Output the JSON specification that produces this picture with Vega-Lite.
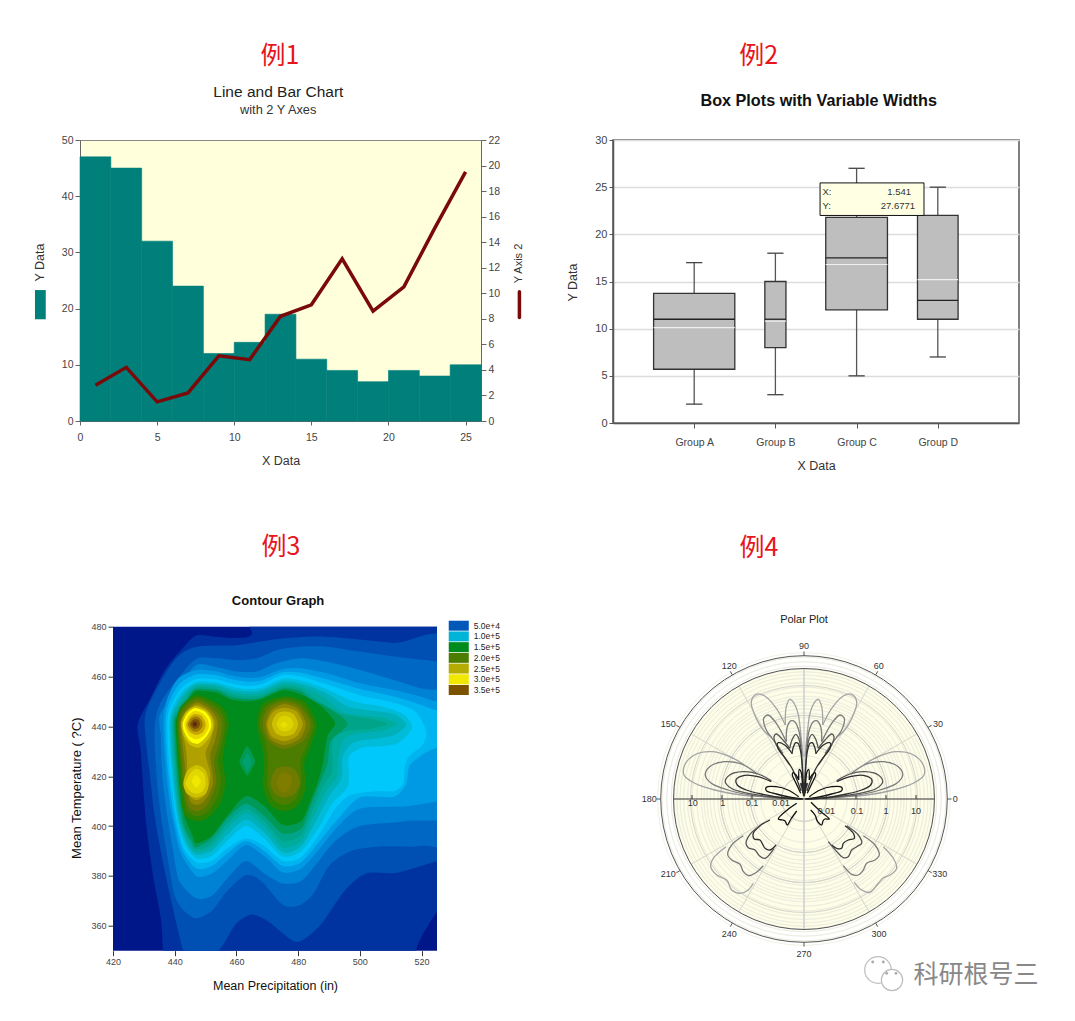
{"$schema":"https://vega.github.io/schema/vega-lite/v6.json","background":"white","padding":{"left":32,"top":43,"right":0,"bottom":0},"config":{"font":"Liberation Sans","axis":{"grid":false,"labelFlush":false,"labelOverlap":false,"labelColor":"#444444","titleColor":"#333333","domainColor":"#666666","tickColor":"#666666","titleFontWeight":"normal","labelFontSize":10.5,"titleFontSize":12.5}},
"datasets":{
"contour":[
{"p":1,"x":468,"y":490},{"p":1,"x":465,"y":477},{"p":1,"x":460,"y":475.5},{"p":1,"x":453,"y":476},{"p":1,"x":447,"y":476.5},{"p":1,"x":443,"y":472},{"p":1,"x":437,"y":463},{"p":1,"x":432,"y":451},{"p":1,"x":428,"y":441},{"p":1,"x":429,"y":430},{"p":1,"x":430,"y":412},{"p":1,"x":431,"y":398},{"p":1,"x":433,"y":380},{"p":1,"x":435.5,"y":363},{"p":1,"x":436.2,"y":350},{"p":1,"x":436.5,"y":340},{"p":1,"x":437,"y":325},{"p":1,"x":480,"y":320},{"p":1,"x":517,"y":325},{"p":1,"x":517.6,"y":340},{"p":1,"x":518.2,"y":350},{"p":1,"x":520,"y":355.6},{"p":1,"x":525,"y":365.6},{"p":1,"x":530,"y":372},{"p":1,"x":540,"y":385},{"p":1,"x":545,"y":490},
{"p":2,"x":530,"y":472},{"p":2,"x":511,"y":473.5},{"p":2,"x":489,"y":476},{"p":2,"x":473,"y":475},{"p":2,"x":460,"y":472.6},{"p":2,"x":447,"y":472},{"p":2,"x":440.6,"y":467.5},{"p":2,"x":435,"y":457},{"p":2,"x":430.5,"y":445},{"p":2,"x":430.7,"y":434},{"p":2,"x":432,"y":420},{"p":2,"x":433.5,"y":404},{"p":2,"x":435.8,"y":388},{"p":2,"x":438.5,"y":372},{"p":2,"x":443,"y":349},{"p":2,"x":447,"y":340},{"p":2,"x":451,"y":345},{"p":2,"x":456,"y":353},{"p":2,"x":460,"y":361},{"p":2,"x":465,"y":364.5},{"p":2,"x":470,"y":362},{"p":2,"x":475,"y":357},{"p":2,"x":480,"y":353.5},{"p":2,"x":487,"y":360},{"p":2,"x":495,"y":374},{"p":2,"x":502,"y":381},{"p":2,"x":512,"y":381.3},{"p":2,"x":525,"y":386},{"p":2,"x":535,"y":390},
{"p":3,"x":535,"y":464},{"p":3,"x":525,"y":466},{"p":3,"x":511,"y":468},{"p":3,"x":500,"y":470},{"p":3,"x":489,"y":472},{"p":3,"x":480.6,"y":472},{"p":3,"x":473,"y":470.6},{"p":3,"x":466.6,"y":467.3},{"p":3,"x":460,"y":466.6},{"p":3,"x":453.6,"y":467.3},{"p":3,"x":447,"y":467},{"p":3,"x":440.6,"y":458.6},{"p":3,"x":435.2,"y":449},{"p":3,"x":433.6,"y":441},{"p":3,"x":433.6,"y":430},{"p":3,"x":434.5,"y":415},{"p":3,"x":436,"y":400},{"p":3,"x":438,"y":385},{"p":3,"x":440,"y":372},{"p":3,"x":443,"y":366},{"p":3,"x":447,"y":363},{"p":3,"x":452,"y":366},{"p":3,"x":457,"y":374},{"p":3,"x":463,"y":380.4},{"p":3,"x":468,"y":378},{"p":3,"x":475,"y":368.5},{"p":3,"x":480,"y":368},{"p":3,"x":485,"y":373},{"p":3,"x":490,"y":384},{"p":3,"x":497,"y":390},{"p":3,"x":507,"y":391.8},{"p":3,"x":520,"y":392},{"p":3,"x":535,"y":397},
{"p":4,"x":535,"y":454},{"p":4,"x":525,"y":454.6},{"p":4,"x":519.5,"y":455.3},{"p":4,"x":511,"y":458.6},{"p":4,"x":500,"y":462.6},{"p":4,"x":489,"y":466},{"p":4,"x":480.6,"y":467.3},{"p":4,"x":473,"y":465.3},{"p":4,"x":466.6,"y":462},{"p":4,"x":460,"y":462},{"p":4,"x":453.6,"y":463.7},{"p":4,"x":447,"y":464.6},{"p":4,"x":440.6,"y":454.6},{"p":4,"x":435.2,"y":444.6},{"p":4,"x":435.5,"y":436},{"p":4,"x":436,"y":420},{"p":4,"x":437.5,"y":405},{"p":4,"x":439.5,"y":390},{"p":4,"x":441.5,"y":378},{"p":4,"x":447,"y":371},{"p":4,"x":452,"y":372},{"p":4,"x":457,"y":379},{"p":4,"x":463,"y":386},{"p":4,"x":469,"y":381},{"p":4,"x":475,"y":377},{"p":4,"x":481,"y":378},{"p":4,"x":486,"y":385},{"p":4,"x":492,"y":394},{"p":4,"x":500,"y":400},{"p":4,"x":515,"y":402},{"p":4,"x":535,"y":407},
{"p":5,"x":535,"y":450},{"p":5,"x":525,"y":450},{"p":5,"x":519.5,"y":452},{"p":5,"x":511,"y":454.6},{"p":5,"x":500,"y":457.3},{"p":5,"x":489.2,"y":461.3},{"p":5,"x":480.6,"y":463.3},{"p":5,"x":475,"y":463},{"p":5,"x":468,"y":459.8},{"p":5,"x":463,"y":459.5},{"p":5,"x":458,"y":460.5},{"p":5,"x":453.6,"y":462},{"p":5,"x":447,"y":462.6},{"p":5,"x":441,"y":459},{"p":5,"x":437.3,"y":450},{"p":5,"x":436.3,"y":441},{"p":5,"x":437,"y":425},{"p":5,"x":438.3,"y":410},{"p":5,"x":439.8,"y":400},{"p":5,"x":442,"y":389},{"p":5,"x":447,"y":380},{"p":5,"x":452,"y":381},{"p":5,"x":457,"y":386},{"p":5,"x":463,"y":392.4},{"p":5,"x":469,"y":388},{"p":5,"x":475,"y":381.5},{"p":5,"x":481,"y":383},{"p":5,"x":487,"y":391},{"p":5,"x":493,"y":400},{"p":5,"x":500,"y":407},{"p":5,"x":515,"y":408},{"p":5,"x":525,"y":410},{"p":5,"x":535,"y":414},
{"p":6,"x":535,"y":447},{"p":6,"x":525,"y":446.5},{"p":6,"x":519,"y":449},{"p":6,"x":511,"y":452},{"p":6,"x":500,"y":455},{"p":6,"x":489,"y":459},{"p":6,"x":480.6,"y":461.5},{"p":6,"x":475,"y":461.7},{"p":6,"x":468,"y":458.3},{"p":6,"x":463,"y":458},{"p":6,"x":458,"y":459},{"p":6,"x":453.6,"y":460.5},{"p":6,"x":447,"y":460.8},{"p":6,"x":441.5,"y":457},{"p":6,"x":438,"y":449},{"p":6,"x":437,"y":441},{"p":6,"x":437.6,"y":425},{"p":6,"x":439,"y":410},{"p":6,"x":440.4,"y":400},{"p":6,"x":442.6,"y":390},{"p":6,"x":447,"y":383},{"p":6,"x":452,"y":384},{"p":6,"x":457,"y":389},{"p":6,"x":463,"y":394},{"p":6,"x":469,"y":390},{"p":6,"x":475,"y":384},{"p":6,"x":481,"y":385.5},{"p":6,"x":487,"y":394},{"p":6,"x":493,"y":403},{"p":6,"x":500,"y":411.5},{"p":6,"x":511,"y":411.8},{"p":6,"x":515,"y":417},{"p":6,"x":516,"y":424},{"p":6,"x":519.5,"y":428},{"p":6,"x":523,"y":430.5},{"p":6,"x":527,"y":432},{"p":6,"x":535,"y":433},
{"p":7,"x":521,"y":440},{"p":7,"x":518,"y":446},{"p":7,"x":511,"y":449.5},{"p":7,"x":500,"y":452.5},{"p":7,"x":489,"y":457},{"p":7,"x":480.6,"y":460},{"p":7,"x":475,"y":460.6},{"p":7,"x":468,"y":456.8},{"p":7,"x":463,"y":456.3},{"p":7,"x":458,"y":457.3},{"p":7,"x":453.6,"y":458.8},{"p":7,"x":447,"y":459},{"p":7,"x":442,"y":455},{"p":7,"x":438.7,"y":448},{"p":7,"x":437.6,"y":441},{"p":7,"x":438.2,"y":425},{"p":7,"x":439.6,"y":410},{"p":7,"x":441,"y":400},{"p":7,"x":443,"y":391},{"p":7,"x":447,"y":385.5},{"p":7,"x":452,"y":386},{"p":7,"x":457,"y":391},{"p":7,"x":463,"y":395},{"p":7,"x":469,"y":392},{"p":7,"x":475,"y":386},{"p":7,"x":481,"y":387.5},{"p":7,"x":487,"y":397},{"p":7,"x":492,"y":407},{"p":7,"x":497,"y":412.5},{"p":7,"x":505,"y":414},{"p":7,"x":511,"y":414},{"p":7,"x":514,"y":417},{"p":7,"x":514.6,"y":424},{"p":7,"x":516,"y":428},{"p":7,"x":520,"y":432},{"p":7,"x":521.5,"y":436},
{"p":8,"x":517,"y":440},{"p":8,"x":514,"y":445},{"p":8,"x":507,"y":448},{"p":8,"x":498,"y":450},{"p":8,"x":489,"y":455},{"p":8,"x":480.6,"y":458.5},{"p":8,"x":475,"y":459},{"p":8,"x":468,"y":455.5},{"p":8,"x":463,"y":455},{"p":8,"x":458,"y":456},{"p":8,"x":453.6,"y":457.6},{"p":8,"x":447,"y":457.8},{"p":8,"x":442.5,"y":454},{"p":8,"x":439.3,"y":447.5},{"p":8,"x":438.2,"y":441},{"p":8,"x":438.8,"y":425},{"p":8,"x":440,"y":410},{"p":8,"x":441.4,"y":400},{"p":8,"x":443.5,"y":392},{"p":8,"x":447,"y":387},{"p":8,"x":452,"y":388},{"p":8,"x":457,"y":394},{"p":8,"x":463,"y":400},{"p":8,"x":469,"y":395},{"p":8,"x":475,"y":387.8},{"p":8,"x":481,"y":390},{"p":8,"x":487,"y":400},{"p":8,"x":491,"y":409},{"p":8,"x":495.7,"y":415},{"p":8,"x":496.5,"y":420},{"p":8,"x":496.5,"y":428},{"p":8,"x":501,"y":431.5},{"p":8,"x":507,"y":432},{"p":8,"x":512,"y":433},{"p":8,"x":515,"y":436},
{"p":9,"x":515,"y":441},{"p":9,"x":511,"y":445},{"p":9,"x":503,"y":446.5},{"p":9,"x":496,"y":448},{"p":9,"x":489,"y":453.5},{"p":9,"x":480.6,"y":457.3},{"p":9,"x":475,"y":458},{"p":9,"x":468,"y":454.5},{"p":9,"x":463,"y":454},{"p":9,"x":458,"y":455},{"p":9,"x":453.6,"y":456.8},{"p":9,"x":447,"y":457},{"p":9,"x":443,"y":453.3},{"p":9,"x":439.8,"y":447},{"p":9,"x":438.7,"y":441},{"p":9,"x":439.3,"y":425},{"p":9,"x":440.4,"y":410},{"p":9,"x":441.8,"y":400},{"p":9,"x":444,"y":392.5},{"p":9,"x":447,"y":388.5},{"p":9,"x":452,"y":390},{"p":9,"x":457,"y":396.5},{"p":9,"x":463,"y":402.5},{"p":9,"x":469,"y":397.5},{"p":9,"x":475,"y":389.5},{"p":9,"x":481,"y":392},{"p":9,"x":486,"y":402.5},{"p":9,"x":490,"y":412},{"p":9,"x":494,"y":419},{"p":9,"x":494.5,"y":428},{"p":9,"x":498,"y":433.5},{"p":9,"x":505,"y":435},{"p":9,"x":510,"y":436},{"p":9,"x":513,"y":438},
{"p":10,"x":512,"y":441},{"p":10,"x":508,"y":443.5},{"p":10,"x":500,"y":444.5},{"p":10,"x":494,"y":446},{"p":10,"x":488,"y":452},{"p":10,"x":480.6,"y":456.3},{"p":10,"x":475,"y":457},{"p":10,"x":468,"y":453.5},{"p":10,"x":463,"y":453},{"p":10,"x":458,"y":454},{"p":10,"x":453.6,"y":456},{"p":10,"x":447,"y":456.3},{"p":10,"x":443.5,"y":452.6},{"p":10,"x":440.2,"y":446.5},{"p":10,"x":439.1,"y":441},{"p":10,"x":439.7,"y":425},{"p":10,"x":440.8,"y":410},{"p":10,"x":442.2,"y":400},{"p":10,"x":444.5,"y":393},{"p":10,"x":447,"y":389.5},{"p":10,"x":452,"y":391.5},{"p":10,"x":457,"y":399},{"p":10,"x":463,"y":405},{"p":10,"x":469,"y":400},{"p":10,"x":475,"y":391.5},{"p":10,"x":481,"y":394},{"p":10,"x":485,"y":404},{"p":10,"x":489,"y":414},{"p":10,"x":492.5,"y":420},{"p":10,"x":493,"y":428},{"p":10,"x":495,"y":435},{"p":10,"x":500,"y":437.3},{"p":10,"x":506,"y":438},{"p":10,"x":510,"y":439.5},
{"p":11,"x":509,"y":441},{"p":11,"x":504,"y":443},{"p":11,"x":498,"y":444},{"p":11,"x":493,"y":445.5},{"p":11,"x":487,"y":450},{"p":11,"x":480.6,"y":455.3},{"p":11,"x":475,"y":456},{"p":11,"x":468,"y":452.5},{"p":11,"x":463,"y":452},{"p":11,"x":458,"y":453},{"p":11,"x":453.6,"y":455.2},{"p":11,"x":447,"y":455.6},{"p":11,"x":444,"y":452},{"p":11,"x":440.6,"y":446},{"p":11,"x":439.5,"y":441},{"p":11,"x":440.1,"y":425},{"p":11,"x":441.2,"y":410},{"p":11,"x":442.6,"y":400},{"p":11,"x":445,"y":393.5},{"p":11,"x":447,"y":390.5},{"p":11,"x":452,"y":393},{"p":11,"x":457,"y":401},{"p":11,"x":463,"y":407},{"p":11,"x":469,"y":402},{"p":11,"x":475,"y":394},{"p":11,"x":481,"y":396.5},{"p":11,"x":484.5,"y":406},{"p":11,"x":488,"y":416},{"p":11,"x":491,"y":422},{"p":11,"x":491,"y":433},{"p":11,"x":493,"y":437},{"p":11,"x":498,"y":438.5},{"p":11,"x":503,"y":439},
{"p":12,"x":496,"y":441},{"p":12,"x":494,"y":444},{"p":12,"x":489,"y":448},{"p":12,"x":484,"y":451},{"p":12,"x":480.6,"y":454.2},{"p":12,"x":475,"y":455.2},{"p":12,"x":468,"y":451.5},{"p":12,"x":463,"y":451},{"p":12,"x":458,"y":452},{"p":12,"x":453.6,"y":454.5},{"p":12,"x":447,"y":455},{"p":12,"x":444.3,"y":451.5},{"p":12,"x":441,"y":445.5},{"p":12,"x":439.9,"y":441},{"p":12,"x":440.5,"y":425},{"p":12,"x":441.6,"y":410},{"p":12,"x":443,"y":400},{"p":12,"x":445.5,"y":394},{"p":12,"x":447,"y":391.5},{"p":12,"x":452,"y":395},{"p":12,"x":457,"y":403},{"p":12,"x":463,"y":409},{"p":12,"x":469,"y":404},{"p":12,"x":475,"y":397},{"p":12,"x":481,"y":399},{"p":12,"x":484,"y":408},{"p":12,"x":487,"y":417},{"p":12,"x":489.5,"y":425},{"p":12,"x":490.5,"y":434},{"p":12,"x":494,"y":438},
{"p":13,"x":492,"y":441},{"p":13,"x":490,"y":445},{"p":13,"x":486,"y":449.5},{"p":13,"x":480.6,"y":453},{"p":13,"x":475,"y":454.5},{"p":13,"x":468,"y":451},{"p":13,"x":463.5,"y":450},{"p":13,"x":458,"y":451},{"p":13,"x":453.6,"y":453.5},{"p":13,"x":447,"y":454.2},{"p":13,"x":444.5,"y":451},{"p":13,"x":441.4,"y":445},{"p":13,"x":440.3,"y":441},{"p":13,"x":441,"y":425},{"p":13,"x":442,"y":412},{"p":13,"x":443.4,"y":403},{"p":13,"x":445.8,"y":396},{"p":13,"x":447,"y":393},{"p":13,"x":452,"y":396},{"p":13,"x":457,"y":404},{"p":13,"x":463,"y":412},{"p":13,"x":469,"y":408},{"p":13,"x":475,"y":400.5},{"p":13,"x":481,"y":402},{"p":13,"x":484,"y":410},{"p":13,"x":486.5,"y":418},{"p":13,"x":488,"y":425},{"p":13,"x":489.5,"y":436},
{"p":14,"x":463.5,"y":432},{"p":14,"x":465.5,"y":428},{"p":14,"x":466,"y":425.5},{"p":14,"x":464.5,"y":422},{"p":14,"x":463.5,"y":420.3},{"p":14,"x":462.5,"y":422},{"p":14,"x":461,"y":425.5},{"p":14,"x":461.6,"y":428},
{"p":15,"x":463.5,"y":429.5},{"p":15,"x":464.6,"y":427},{"p":15,"x":465,"y":425.5},{"p":15,"x":464,"y":423},{"p":15,"x":463.5,"y":421.8},{"p":15,"x":463,"y":423},{"p":15,"x":462,"y":425.5},{"p":15,"x":462.4,"y":427},
{"p":16,"x":440.6,"y":441},{"p":16,"x":442,"y":448},{"p":16,"x":447,"y":452.5},{"p":16,"x":452,"y":450.5},{"p":16,"x":456,"y":447},{"p":16,"x":457.5,"y":441},{"p":16,"x":456.5,"y":434},{"p":16,"x":455.5,"y":426},{"p":16,"x":456.5,"y":418},{"p":16,"x":455,"y":410},{"p":16,"x":451,"y":403.5},{"p":16,"x":447,"y":402},{"p":16,"x":443,"y":405},{"p":16,"x":441.8,"y":415},{"p":16,"x":441.2,"y":428},
{"p":17,"x":466.6,"y":441},{"p":17,"x":468.5,"y":449},{"p":17,"x":475.5,"y":452},{"p":17,"x":482,"y":450},{"p":17,"x":486,"y":441},{"p":17,"x":484,"y":432},{"p":17,"x":482,"y":425},{"p":17,"x":482.5,"y":416},{"p":17,"x":480,"y":408.5},{"p":17,"x":475.5,"y":406},{"p":17,"x":471,"y":408.5},{"p":17,"x":468.5,"y":416},{"p":17,"x":469,"y":425},{"p":17,"x":468,"y":433},
{"p":18,"x":441,"y":441},{"p":18,"x":442.5,"y":447.3},{"p":18,"x":447,"y":451.5},{"p":18,"x":451.5,"y":449.5},{"p":18,"x":455,"y":446},{"p":18,"x":456.3,"y":441},{"p":18,"x":455.5,"y":434},{"p":18,"x":454,"y":426},{"p":18,"x":455,"y":418},{"p":18,"x":453.5,"y":411},{"p":18,"x":450.5,"y":405.5},{"p":18,"x":447,"y":404},{"p":18,"x":444,"y":406.5},{"p":18,"x":442.5,"y":415},{"p":18,"x":441.8,"y":428},
{"p":19,"x":467.5,"y":441},{"p":19,"x":469.5,"y":448},{"p":19,"x":475.5,"y":451},{"p":19,"x":481,"y":449},{"p":19,"x":485,"y":441},{"p":19,"x":483,"y":433},{"p":19,"x":480.8,"y":426},{"p":19,"x":481,"y":417},{"p":19,"x":479,"y":410.5},{"p":19,"x":475.5,"y":408.5},{"p":19,"x":472,"y":410.5},{"p":19,"x":470,"y":417},{"p":19,"x":470.3,"y":426},{"p":19,"x":469.3,"y":434},
{"p":20,"x":441.4,"y":441},{"p":20,"x":443,"y":446.5},{"p":20,"x":447,"y":450.5},{"p":20,"x":451,"y":448.5},{"p":20,"x":454,"y":445},{"p":20,"x":455.3,"y":441},{"p":20,"x":454.5,"y":434},{"p":20,"x":452.8,"y":426},{"p":20,"x":453.5,"y":418},{"p":20,"x":452,"y":412},{"p":20,"x":449.8,"y":407.5},{"p":20,"x":447,"y":406},{"p":20,"x":444.5,"y":408},{"p":20,"x":443,"y":416},{"p":20,"x":442.3,"y":428},
{"p":21,"x":468.5,"y":441},{"p":21,"x":470.5,"y":447.5},{"p":21,"x":475.5,"y":450},{"p":21,"x":480.5,"y":448},{"p":21,"x":484,"y":441},{"p":21,"x":481.5,"y":434},{"p":21,"x":475.5,"y":431},{"p":21,"x":470.5,"y":434},
{"p":22,"x":471,"y":417.5},{"p":22,"x":472.5,"y":422.5},{"p":22,"x":475.7,"y":424},{"p":22,"x":479,"y":422.5},{"p":22,"x":480.6,"y":417.5},{"p":22,"x":479,"y":413},{"p":22,"x":475.7,"y":411.5},{"p":22,"x":472.5,"y":413},
{"p":23,"x":441.8,"y":441},{"p":23,"x":443.5,"y":446},{"p":23,"x":447,"y":449.5},{"p":23,"x":450.5,"y":447.7},{"p":23,"x":453,"y":444.5},{"p":23,"x":454,"y":441},{"p":23,"x":453,"y":434},{"p":23,"x":451.5,"y":428},{"p":23,"x":452.5,"y":418},{"p":23,"x":451,"y":412.5},{"p":23,"x":449,"y":409.5},{"p":23,"x":447,"y":408.5},{"p":23,"x":445,"y":410},{"p":23,"x":443.8,"y":417},{"p":23,"x":443,"y":428},
{"p":24,"x":469.5,"y":441},{"p":24,"x":471.3,"y":446.5},{"p":24,"x":475.5,"y":449},{"p":24,"x":480,"y":447},{"p":24,"x":482.5,"y":441},{"p":24,"x":480.5,"y":435},{"p":24,"x":475.5,"y":432.5},{"p":24,"x":471,"y":435},
{"p":25,"x":473,"y":417.5},{"p":25,"x":474,"y":420.5},{"p":25,"x":475.7,"y":421.5},{"p":25,"x":477.5,"y":420.5},{"p":25,"x":478,"y":417.5},{"p":25,"x":477,"y":414.5},{"p":25,"x":475.7,"y":413.5},{"p":25,"x":474,"y":414.5},
{"p":26,"x":442,"y":441},{"p":26,"x":444,"y":445.5},{"p":26,"x":447,"y":448.6},{"p":26,"x":450.2,"y":447},{"p":26,"x":452.2,"y":444},{"p":26,"x":453,"y":441},{"p":26,"x":451.5,"y":434},{"p":26,"x":450,"y":429},{"p":26,"x":451.5,"y":421},{"p":26,"x":451,"y":416},{"p":26,"x":449.5,"y":412},{"p":26,"x":447,"y":410.5},{"p":26,"x":445,"y":412},{"p":26,"x":444,"y":418},{"p":26,"x":444,"y":426},{"p":26,"x":443.5,"y":432},
{"p":27,"x":470,"y":441},{"p":27,"x":472,"y":446},{"p":27,"x":475.5,"y":447.5},{"p":27,"x":479.5,"y":446},{"p":27,"x":481.5,"y":441},{"p":27,"x":479.5,"y":436},{"p":27,"x":475.5,"y":434},{"p":27,"x":471.5,"y":436},
{"p":28,"x":442.2,"y":441},{"p":28,"x":443.5,"y":445.5},{"p":28,"x":446.5,"y":448},{"p":28,"x":450,"y":446.5},{"p":28,"x":452,"y":443.5},{"p":28,"x":452.5,"y":439.5},{"p":28,"x":451,"y":435},{"p":28,"x":448,"y":431.5},{"p":28,"x":445,"y":432.5},{"p":28,"x":443,"y":436},
{"p":29,"x":442.8,"y":417},{"p":29,"x":444,"y":422},{"p":29,"x":447,"y":424.5},{"p":29,"x":450,"y":422.5},{"p":29,"x":451,"y":417},{"p":29,"x":450,"y":413},{"p":29,"x":447,"y":411.5},{"p":29,"x":444,"y":413},
{"p":30,"x":471.5,"y":441},{"p":30,"x":473,"y":445},{"p":30,"x":475.5,"y":446},{"p":30,"x":478.5,"y":445},{"p":30,"x":480,"y":441},{"p":30,"x":478.5,"y":437},{"p":30,"x":475.5,"y":436},{"p":30,"x":473,"y":437},
{"p":31,"x":443.5,"y":417},{"p":31,"x":445,"y":421},{"p":31,"x":447,"y":423},{"p":31,"x":449.5,"y":421},{"p":31,"x":450,"y":417},{"p":31,"x":449,"y":414},{"p":31,"x":447,"y":413},{"p":31,"x":445,"y":414},
{"p":32,"x":445.5,"y":418},{"p":32,"x":447,"y":420.5},{"p":32,"x":448.5,"y":418},{"p":32,"x":447,"y":415.5},
{"p":33,"x":473,"y":441},{"p":33,"x":474,"y":443.5},{"p":33,"x":475.5,"y":444.3},{"p":33,"x":477.5,"y":443.5},{"p":33,"x":478.5,"y":441},{"p":33,"x":477.5,"y":438.7},{"p":33,"x":475.5,"y":438},{"p":33,"x":474,"y":438.7},
{"p":34,"x":474.3,"y":440.5},{"p":34,"x":475.5,"y":442},{"p":34,"x":476.6,"y":440.5},{"p":34,"x":475.5,"y":439.5},
{"p":35,"x":442.6,"y":441},{"p":35,"x":444,"y":445},{"p":35,"x":446.5,"y":447.3},{"p":35,"x":449.7,"y":446},{"p":35,"x":451.5,"y":443},{"p":35,"x":451.8,"y":439.5},{"p":35,"x":450,"y":435.5},{"p":35,"x":447.5,"y":433},{"p":35,"x":445,"y":434},{"p":35,"x":443.2,"y":437.5},
{"p":36,"x":443.2,"y":441},{"p":36,"x":444.5,"y":444.5},{"p":36,"x":446.5,"y":446.3},{"p":36,"x":449,"y":445.3},{"p":36,"x":450.8,"y":442.5},{"p":36,"x":451,"y":439.5},{"p":36,"x":449.5,"y":436.3},{"p":36,"x":447.3,"y":434.8},{"p":36,"x":445.3,"y":435.5},{"p":36,"x":443.8,"y":438},
{"p":37,"x":443.8,"y":441},{"p":37,"x":445,"y":443.8},{"p":37,"x":446.5,"y":445},{"p":37,"x":448.6,"y":444.3},{"p":37,"x":449.8,"y":442},{"p":37,"x":450,"y":440},{"p":37,"x":449,"y":437.5},{"p":37,"x":447,"y":436.5},{"p":37,"x":445.3,"y":437.3},{"p":37,"x":444.2,"y":439},
{"p":38,"x":444.3,"y":441},{"p":38,"x":445.3,"y":443.2},{"p":38,"x":446.6,"y":444},{"p":38,"x":448,"y":443.5},{"p":38,"x":449,"y":441.5},{"p":38,"x":448.8,"y":439.5},{"p":38,"x":447.5,"y":438},{"p":38,"x":446,"y":438},{"p":38,"x":444.8,"y":439.5},
{"p":39,"x":445,"y":441},{"p":39,"x":445.8,"y":442.6},{"p":39,"x":446.6,"y":443},{"p":39,"x":447.7,"y":442.6},{"p":39,"x":448.2,"y":441},{"p":39,"x":447.6,"y":439.5},{"p":39,"x":446.5,"y":439},{"p":39,"x":445.5,"y":439.7},
{"p":40,"x":445.8,"y":441},{"p":40,"x":446.3,"y":441.8},{"p":40,"x":447,"y":441.5},{"p":40,"x":447.2,"y":440.6},{"p":40,"x":446.6,"y":440},{"p":40,"x":446,"y":440.3}
],
"petals":[
{"c":"R1","s":1,"x":60,"y":34.3},{"c":"R1","s":1,"x":74.3,"y":42.3},{"c":"R1","s":1,"x":91,"y":47.3},{"c":"R1","s":1,"x":107.7,"y":45},{"c":"R1","s":1,"x":119.3,"y":34},{"c":"R1","s":1,"x":120,"y":24},{"c":"R1","s":1,"x":109.3,"y":15.7},{"c":"R1","s":1,"x":89.3,"y":9},{"c":"R1","s":1,"x":62.7,"y":4},{"c":"R1","s":1,"x":29.3,"y":1.7},{"c":"R1","s":1,"x":2.7,"y":0},
{"c":"R2","s":2,"x":47.7,"y":25.7},{"c":"R2","s":2,"x":62.7,"y":35},{"c":"R2","s":2,"x":79.3,"y":37.3},{"c":"R2","s":2,"x":94.3,"y":32.3},{"c":"R2","s":2,"x":98.7,"y":24},{"c":"R2","s":2,"x":92.7,"y":15.7},{"c":"R2","s":2,"x":76,"y":9},{"c":"R2","s":2,"x":49.3,"y":3.3},{"c":"R2","s":2,"x":16,"y":0.7},{"c":"R2","s":2,"x":2.7,"y":0},
{"c":"R3","s":3,"x":32.7,"y":18.3},{"c":"R3","s":3,"x":46,"y":25},{"c":"R3","s":3,"x":61,"y":27.3},{"c":"R3","s":3,"x":74.3,"y":24},{"c":"R3","s":3,"x":78.7,"y":17.3},{"c":"R3","s":3,"x":72.7,"y":10.7},{"c":"R3","s":3,"x":59.3,"y":6.3},{"c":"R3","s":3,"x":39.3,"y":3},{"c":"R3","s":3,"x":16,"y":0.7},{"c":"R3","s":3,"x":2.7,"y":0},
{"c":"R4","s":4,"x":32.7,"y":17.3},{"c":"R4","s":4,"x":46,"y":22.3},{"c":"R4","s":4,"x":59.3,"y":23.7},{"c":"R4","s":4,"x":67.7,"y":19.7},{"c":"R4","s":4,"x":66.7,"y":14},{"c":"R4","s":4,"x":57.7,"y":9},{"c":"R4","s":4,"x":42.7,"y":5},{"c":"R4","s":4,"x":19.3,"y":1},{"c":"R4","s":4,"x":2.7,"y":0},
{"c":"R5","s":5,"x":5.3,"y":2.3},{"c":"R5","s":5,"x":16,"y":9},{"c":"R5","s":5,"x":27.7,"y":12.3},{"c":"R5","s":5,"x":37.7,"y":11.7},{"c":"R5","s":5,"x":37.7,"y":8.3},{"c":"R5","s":5,"x":27.7,"y":5},{"c":"R5","s":5,"x":12.7,"y":1.7},{"c":"R5","s":5,"x":1,"y":0},
{"c":"F1","s":1,"x":-60,"y":34.3},{"c":"F1","s":1,"x":-74.3,"y":42.3},{"c":"F1","s":1,"x":-91,"y":47.3},{"c":"F1","s":1,"x":-107.7,"y":45},{"c":"F1","s":1,"x":-119.3,"y":34},{"c":"F1","s":1,"x":-120,"y":24},{"c":"F1","s":1,"x":-109.3,"y":15.7},{"c":"F1","s":1,"x":-89.3,"y":9},{"c":"F1","s":1,"x":-62.7,"y":4},{"c":"F1","s":1,"x":-29.3,"y":1.7},{"c":"F1","s":1,"x":-2.7,"y":0},
{"c":"F2","s":2,"x":-47.7,"y":25.7},{"c":"F2","s":2,"x":-62.7,"y":35},{"c":"F2","s":2,"x":-79.3,"y":37.3},{"c":"F2","s":2,"x":-94.3,"y":32.3},{"c":"F2","s":2,"x":-98.7,"y":24},{"c":"F2","s":2,"x":-92.7,"y":15.7},{"c":"F2","s":2,"x":-76,"y":9},{"c":"F2","s":2,"x":-49.3,"y":3.3},{"c":"F2","s":2,"x":-16,"y":0.7},{"c":"F2","s":2,"x":-2.7,"y":0},
{"c":"F3","s":3,"x":-32.7,"y":18.3},{"c":"F3","s":3,"x":-46,"y":25},{"c":"F3","s":3,"x":-61,"y":27.3},{"c":"F3","s":3,"x":-74.3,"y":24},{"c":"F3","s":3,"x":-78.7,"y":17.3},{"c":"F3","s":3,"x":-72.7,"y":10.7},{"c":"F3","s":3,"x":-59.3,"y":6.3},{"c":"F3","s":3,"x":-39.3,"y":3},{"c":"F3","s":3,"x":-16,"y":0.7},{"c":"F3","s":3,"x":-2.7,"y":0},
{"c":"F4","s":4,"x":-32.7,"y":17.3},{"c":"F4","s":4,"x":-46,"y":22.3},{"c":"F4","s":4,"x":-59.3,"y":23.7},{"c":"F4","s":4,"x":-67.7,"y":19.7},{"c":"F4","s":4,"x":-66.7,"y":14},{"c":"F4","s":4,"x":-57.7,"y":9},{"c":"F4","s":4,"x":-42.7,"y":5},{"c":"F4","s":4,"x":-19.3,"y":1},{"c":"F4","s":4,"x":-2.7,"y":0},
{"c":"F5","s":5,"x":-5.3,"y":2.3},{"c":"F5","s":5,"x":-16,"y":9},{"c":"F5","s":5,"x":-27.7,"y":12.3},{"c":"F5","s":5,"x":-37.7,"y":11.7},{"c":"F5","s":5,"x":-37.7,"y":8.3},{"c":"F5","s":5,"x":-27.7,"y":5},{"c":"F5","s":5,"x":-12.7,"y":1.7},{"c":"F5","s":5,"x":-1,"y":0},
{"c":"U1a","s":1,"x":1,"y":42.3},{"c":"U1a","s":1,"x":3.3,"y":65.7},{"c":"U1a","s":1,"x":6,"y":85.7},{"c":"U1a","s":1,"x":11,"y":97.3},{"c":"U1a","s":1,"x":14.3,"y":99.7},{"c":"U1a","s":1,"x":17.7,"y":92.3},{"c":"U1a","s":1,"x":18.7,"y":74},
{"c":"U1b","s":1,"x":18.7,"y":74},{"c":"U1b","s":1,"x":27.7,"y":90.7},{"c":"U1b","s":1,"x":39.3,"y":103},{"c":"U1b","s":1,"x":47.7,"y":104.7},{"c":"U1b","s":1,"x":52.7,"y":97.3},{"c":"U1b","s":1,"x":49.3,"y":84},{"c":"U1b","s":1,"x":39.3,"y":67.3},{"c":"U1b","s":1,"x":32,"y":61.7},
{"c":"U2a","s":2,"x":2.7,"y":52.3},{"c":"U2a","s":2,"x":5.3,"y":69},{"c":"U2a","s":2,"x":9.3,"y":77.3},{"c":"U2a","s":2,"x":12.7,"y":78.3},{"c":"U2a","s":2,"x":16.7,"y":72.3},{"c":"U2a","s":2,"x":17.7,"y":57.3},
{"c":"U2b","s":2,"x":17.7,"y":57.3},{"c":"U2b","s":2,"x":27.7,"y":75.7},{"c":"U2b","s":2,"x":36,"y":84},{"c":"U2b","s":2,"x":40.3,"y":80.7},{"c":"U2b","s":2,"x":37.7,"y":69},{"c":"U2b","s":2,"x":29.3,"y":57.3},{"c":"U2b","s":2,"x":21,"y":45.7},
{"c":"U3a","s":3,"x":0.5,"y":3},{"c":"U3a","s":3,"x":2,"y":39},{"c":"U3a","s":3,"x":3.3,"y":52.3},{"c":"U3a","s":3,"x":6,"y":62.3},{"c":"U3a","s":3,"x":8.3,"y":64.7},{"c":"U3a","s":3,"x":11.7,"y":59.7},{"c":"U3a","s":3,"x":14.3,"y":50.7},
{"c":"U3b","s":3,"x":14.3,"y":50.7},{"c":"U3b","s":3,"x":21,"y":59},{"c":"U3b","s":3,"x":27.7,"y":65},{"c":"U3b","s":3,"x":30,"y":62.3},{"c":"U3b","s":3,"x":27.7,"y":54},{"c":"U3b","s":3,"x":21,"y":44},{"c":"U3b","s":3,"x":14.3,"y":34},
{"c":"U4a","s":4,"x":0.3,"y":3},{"c":"U4a","s":4,"x":2,"y":35.7},{"c":"U4a","s":4,"x":3.3,"y":47.3},{"c":"U4a","s":4,"x":6,"y":55.7},{"c":"U4a","s":4,"x":8.3,"y":56.3},{"c":"U4a","s":4,"x":11,"y":50.7},{"c":"U4a","s":4,"x":12,"y":45},
{"c":"U4b","s":4,"x":12,"y":45.7},{"c":"U4b","s":4,"x":19.3,"y":54},{"c":"U4b","s":4,"x":26,"y":56.3},{"c":"U4b","s":4,"x":26,"y":50.7},{"c":"U4b","s":4,"x":20,"y":42.3},{"c":"U4b","s":4,"x":12,"y":30.7},{"c":"U4b","s":4,"x":3,"y":8},
{"c":"U5a","s":5,"x":1,"y":5.7},{"c":"U5a","s":5,"x":1.7,"y":17.3},{"c":"U5a","s":5,"x":3,"y":27.3},{"c":"U5a","s":5,"x":4.7,"y":29.7},{"c":"U5a","s":5,"x":5.3,"y":19},
{"c":"U5b","s":5,"x":5.3,"y":19},{"c":"U5b","s":5,"x":8,"y":24},{"c":"U5b","s":5,"x":11,"y":26.3},{"c":"U5b","s":5,"x":11.7,"y":24},{"c":"U5b","s":5,"x":8.7,"y":17.3},{"c":"U5b","s":5,"x":3.3,"y":5.7},
{"c":"V1a","s":1,"x":-1,"y":42.3},{"c":"V1a","s":1,"x":-3.3,"y":65.7},{"c":"V1a","s":1,"x":-6,"y":85.7},{"c":"V1a","s":1,"x":-11,"y":97.3},{"c":"V1a","s":1,"x":-14.3,"y":99.7},{"c":"V1a","s":1,"x":-17.7,"y":92.3},{"c":"V1a","s":1,"x":-18.7,"y":74},
{"c":"V1b","s":1,"x":-18.7,"y":74},{"c":"V1b","s":1,"x":-27.7,"y":90.7},{"c":"V1b","s":1,"x":-39.3,"y":103},{"c":"V1b","s":1,"x":-47.7,"y":104.7},{"c":"V1b","s":1,"x":-52.7,"y":97.3},{"c":"V1b","s":1,"x":-49.3,"y":84},{"c":"V1b","s":1,"x":-39.3,"y":67.3},{"c":"V1b","s":1,"x":-32,"y":61.7},
{"c":"V2a","s":2,"x":-2.7,"y":52.3},{"c":"V2a","s":2,"x":-5.3,"y":69},{"c":"V2a","s":2,"x":-9.3,"y":77.3},{"c":"V2a","s":2,"x":-12.7,"y":78.3},{"c":"V2a","s":2,"x":-16.7,"y":72.3},{"c":"V2a","s":2,"x":-17.7,"y":57.3},
{"c":"V2b","s":2,"x":-17.7,"y":57.3},{"c":"V2b","s":2,"x":-27.7,"y":75.7},{"c":"V2b","s":2,"x":-36,"y":84},{"c":"V2b","s":2,"x":-40.3,"y":80.7},{"c":"V2b","s":2,"x":-37.7,"y":69},{"c":"V2b","s":2,"x":-29.3,"y":57.3},{"c":"V2b","s":2,"x":-21,"y":45.7},
{"c":"V3a","s":3,"x":-0.5,"y":3},{"c":"V3a","s":3,"x":-2,"y":39},{"c":"V3a","s":3,"x":-3.3,"y":52.3},{"c":"V3a","s":3,"x":-6,"y":62.3},{"c":"V3a","s":3,"x":-8.3,"y":64.7},{"c":"V3a","s":3,"x":-11.7,"y":59.7},{"c":"V3a","s":3,"x":-14.3,"y":50.7},
{"c":"V3b","s":3,"x":-14.3,"y":50.7},{"c":"V3b","s":3,"x":-21,"y":59},{"c":"V3b","s":3,"x":-27.7,"y":65},{"c":"V3b","s":3,"x":-30,"y":62.3},{"c":"V3b","s":3,"x":-27.7,"y":54},{"c":"V3b","s":3,"x":-21,"y":44},{"c":"V3b","s":3,"x":-14.3,"y":34},
{"c":"V4a","s":4,"x":-0.3,"y":3},{"c":"V4a","s":4,"x":-2,"y":35.7},{"c":"V4a","s":4,"x":-3.3,"y":47.3},{"c":"V4a","s":4,"x":-6,"y":55.7},{"c":"V4a","s":4,"x":-8.3,"y":56.3},{"c":"V4a","s":4,"x":-11,"y":50.7},{"c":"V4a","s":4,"x":-12,"y":45},
{"c":"V4b","s":4,"x":-12,"y":45.7},{"c":"V4b","s":4,"x":-19.3,"y":54},{"c":"V4b","s":4,"x":-26,"y":56.3},{"c":"V4b","s":4,"x":-26,"y":50.7},{"c":"V4b","s":4,"x":-20,"y":42.3},{"c":"V4b","s":4,"x":-12,"y":30.7},{"c":"V4b","s":4,"x":-3,"y":8},
{"c":"V5a","s":5,"x":-1,"y":5.7},{"c":"V5a","s":5,"x":-1.7,"y":17.3},{"c":"V5a","s":5,"x":-3,"y":27.3},{"c":"V5a","s":5,"x":-4.7,"y":29.7},{"c":"V5a","s":5,"x":-5.3,"y":19},
{"c":"V5b","s":5,"x":-5.3,"y":19},{"c":"V5b","s":5,"x":-8,"y":24},{"c":"V5b","s":5,"x":-11,"y":26.3},{"c":"V5b","s":5,"x":-11.7,"y":24},{"c":"V5b","s":5,"x":-8.7,"y":17.3},{"c":"V5b","s":5,"x":-3.3,"y":5.7},
{"c":"W5","s":5,"x":7,"y":-3.3},{"c":"W5","s":5,"x":16,"y":-12},{"c":"W5","s":5,"x":25.3,"y":-20},{"c":"W5","s":5,"x":21,"y":-20},{"c":"W5","s":5,"x":19,"y":-22},{"c":"W5","s":5,"x":17.7,"y":-26},{"c":"W5","s":5,"x":13.7,"y":-22.7},{"c":"W5","s":5,"x":11,"y":-16},{"c":"W5","s":5,"x":6.7,"y":-11},
{"c":"W4","s":4,"x":41,"y":-26.7},{"c":"W4","s":4,"x":49.3,"y":-34.3},{"c":"W4","s":4,"x":50.3,"y":-39.3},{"c":"W4","s":4,"x":44.3,"y":-41},{"c":"W4","s":4,"x":39.3,"y":-44.3},{"c":"W4","s":4,"x":37.7,"y":-49.3},{"c":"W4","s":4,"x":32.7,"y":-49.3},{"c":"W4","s":4,"x":27.7,"y":-46},
{"c":"W3","s":3,"x":42.7,"y":-26.7},{"c":"W3","s":3,"x":54.3,"y":-36},{"c":"W3","s":3,"x":57.7,"y":-44.3},{"c":"W3","s":3,"x":52.7,"y":-47.7},{"c":"W3","s":3,"x":47.7,"y":-51},{"c":"W3","s":3,"x":44.3,"y":-57.7},{"c":"W3","s":3,"x":39.3,"y":-58.7},{"c":"W3","s":3,"x":34.3,"y":-54.3},{"c":"W3","s":3,"x":24.3,"y":-42.7},
{"c":"W2","s":2,"x":59.3,"y":-36.7},{"c":"W2","s":2,"x":71,"y":-46},{"c":"W2","s":2,"x":75.3,"y":-56},{"c":"W2","s":2,"x":71,"y":-61},{"c":"W2","s":2,"x":62.7,"y":-64.3},{"c":"W2","s":2,"x":59.3,"y":-71},{"c":"W2","s":2,"x":54.3,"y":-76},{"c":"W2","s":2,"x":47.7,"y":-75.3},{"c":"W2","s":2,"x":39.3,"y":-66.7},
{"c":"W1","s":1,"x":79.3,"y":-47.7},{"c":"W1","s":1,"x":89.3,"y":-59.3},{"c":"W1","s":1,"x":92.7,"y":-69.3},{"c":"W1","s":1,"x":86,"y":-76},{"c":"W1","s":1,"x":79.3,"y":-78.7},{"c":"W1","s":1,"x":74.3,"y":-84.3},{"c":"W1","s":1,"x":66,"y":-93.3},{"c":"W1","s":1,"x":57.7,"y":-91},{"c":"W1","s":1,"x":50.3,"y":-83.3},
{"c":"Z5","s":5,"x":-7.3,"y":-12},{"c":"Z5","s":5,"x":-13,"y":-20},{"c":"Z5","s":5,"x":-16.7,"y":-26},{"c":"Z5","s":5,"x":-19,"y":-22},{"c":"Z5","s":5,"x":-21.3,"y":-21},{"c":"Z5","s":5,"x":-25.7,"y":-20},{"c":"Z5","s":5,"x":-16.7,"y":-11},{"c":"Z5","s":5,"x":-7.3,"y":-4.3},
{"c":"Z4","s":4,"x":-34,"y":-21},{"c":"Z4","s":4,"x":-44,"y":-26.7},{"c":"Z4","s":4,"x":-50.7,"y":-34.3},{"c":"Z4","s":4,"x":-49.7,"y":-40},{"c":"Z4","s":4,"x":-44,"y":-41},{"c":"Z4","s":4,"x":-39,"y":-49.3},{"c":"Z4","s":4,"x":-34,"y":-51},{"c":"Z4","s":4,"x":-28,"y":-46},
{"c":"Z3","s":3,"x":-44,"y":-26.7},{"c":"Z3","s":3,"x":-54,"y":-35.3},{"c":"Z3","s":3,"x":-58,"y":-44.3},{"c":"Z3","s":3,"x":-55.7,"y":-48.7},{"c":"Z3","s":3,"x":-49,"y":-51},{"c":"Z3","s":3,"x":-44.7,"y":-56.7},{"c":"Z3","s":3,"x":-39,"y":-59.3},{"c":"Z3","s":3,"x":-30,"y":-49.3},
{"c":"Z2","s":2,"x":-60.7,"y":-36.7},{"c":"Z2","s":2,"x":-72.3,"y":-46},{"c":"Z2","s":2,"x":-76.3,"y":-56},{"c":"Z2","s":2,"x":-72.3,"y":-61},{"c":"Z2","s":2,"x":-64,"y":-65.3},{"c":"Z2","s":2,"x":-60.7,"y":-72.7},{"c":"Z2","s":2,"x":-55.7,"y":-76.7},{"c":"Z2","s":2,"x":-49,"y":-74.3},{"c":"Z2","s":2,"x":-40.7,"y":-66.7},
{"c":"Z1","s":1,"x":-78,"y":-47.7},{"c":"Z1","s":1,"x":-90.7,"y":-59.3},{"c":"Z1","s":1,"x":-93.3,"y":-67.7},{"c":"Z1","s":1,"x":-87.3,"y":-76},{"c":"Z1","s":1,"x":-77.3,"y":-81},{"c":"Z1","s":1,"x":-72.3,"y":-91},{"c":"Z1","s":1,"x":-64,"y":-94.3},{"c":"Z1","s":1,"x":-55.7,"y":-91},{"c":"Z1","s":1,"x":-50.7,"y":-84.3}
],
"boxes":[
{"c":1,"xl":0.5,"xr":1.5,"cl":0.9,"cr":1.1,"lo":2,"q1":5.7,"med":11,"mean":10.1,"q3":13.75,"hi":17},
{"c":2,"xl":1.87,"xr":2.13,"cl":1.9,"cr":2.1,"lo":3,"q1":8,"med":11,"mean":10.8,"q3":15,"hi":18},
{"c":3,"xl":2.62,"xr":3.38,"cl":2.9,"cr":3.1,"lo":5,"q1":12,"med":17.5,"mean":16.8,"q3":21.8,"hi":27},
{"c":4,"xl":3.75,"xr":4.25,"cl":3.9,"cr":4.1,"lo":7,"q1":11,"med":13,"mean":15.2,"q3":22,"hi":25}
]
},
"bounds":"flush","spacing":486.7,
"vconcat":[
{"bounds":"flush","spacing":132,"hconcat":[
{"width":401,"height":281,"view":{"fill":"#ffffdc","stroke":"#888888"},
"resolve":{"scale":{"y":"independent"}},
"layer":[
{"data":{"values":[{"a":0,"b":2,"v":47},{"a":2,"b":4,"v":45},{"a":4,"b":6,"v":32},{"a":6,"b":8,"v":24},{"a":8,"b":10,"v":12},{"a":10,"b":12,"v":14},{"a":12,"b":14,"v":19},{"a":14,"b":16,"v":11},{"a":16,"b":18,"v":9},{"a":18,"b":20,"v":7},{"a":20,"b":22,"v":9},{"a":22,"b":24,"v":8},{"a":24,"b":26,"v":10}]},
"mark":{"type":"rect","fill":"#007f7b","stroke":"#007f7b","strokeWidth":0.6},
"encoding":{"x":{"field":"a","type":"quantitative","scale":{"domain":[0,26],"nice":false},"axis":{"values":[0,5,10,15,20,25],"title":"X Data","labelPadding":7,"titlePadding":12,"tickSize":4}},"x2":{"field":"b"},"y":{"field":"v","type":"quantitative","scale":{"domain":[0,50]},"axis":{"values":[0,10,20,30,40,50],"title":"Y Data","titleX":-34,"titleY":122,"tickSize":5}},"y2":{"datum":0}}},
{"data":{"values":[{"x":1,"y":2.8},{"x":3,"y":4.2},{"x":5,"y":1.5},{"x":7,"y":2.2},{"x":9,"y":5.1},{"x":11,"y":4.8},{"x":13,"y":8.2},{"x":15,"y":9.1},{"x":17,"y":12.7},{"x":19,"y":8.6},{"x":21,"y":10.5},{"x":23,"y":15.1},{"x":25,"y":19.5}]},
"mark":{"type":"line","color":"#7a0a0a","strokeWidth":3.5},
"encoding":{"x":{"field":"x","type":"quantitative"},"y":{"field":"y","type":"quantitative","scale":{"domain":[0,22]},"axis":{"orient":"right","values":[0,2,4,6,8,10,12,14,16,18,20,22],"title":"Y Axis 2","titleAngle":270,"titleX":42,"titleY":123,"titleFontSize":11,"tickSize":5}}}},
{"data":{"values":[{"a":-2.92,"b":-2.22,"v":23.3,"w":18.1}]},"mark":{"type":"rect","fill":"#007f7b"},
"encoding":{"x":{"field":"a","type":"quantitative"},"x2":{"field":"b"},"y":{"field":"v","type":"quantitative","scale":{"domain":[0,50]},"axis":null},"y2":{"field":"w"}}},
{"data":{"values":[{"a":28.49,"v":23,"w":18.4}]},"mark":{"type":"rule","color":"#7a0a0a","strokeWidth":3.5,"strokeCap":"round"},
"encoding":{"x":{"field":"a","type":"quantitative"},"y":{"field":"v","type":"quantitative","scale":{"domain":[0,50]},"axis":null},"y2":{"field":"w"}}},
{"data":{"values":[{"t":"例1","a":12.97,"v":64.95}]},"mark":{"type":"text","font":"Noto Sans CJK SC","fontSize":25,"color":"#e8141c"},
"encoding":{"text":{"field":"t"},"x":{"field":"a","type":"quantitative"},"y":{"field":"v","type":"quantitative","scale":{"domain":[0,50]},"axis":null}}},
{"data":{"values":[{"t":"Line and Bar Chart","a":12.86,"v":58.6}]},"mark":{"type":"text","fontSize":15.5,"color":"#222222"},
"encoding":{"text":{"field":"t"},"x":{"field":"a","type":"quantitative"},"y":{"field":"v","type":"quantitative","scale":{"domain":[0,50]},"axis":null}}},
{"data":{"values":[{"t":"with 2 Y Axes","a":12.85,"v":55.3}]},"mark":{"type":"text","fontSize":12.8,"color":"#333333"},
"encoding":{"text":{"field":"t"},"x":{"field":"a","type":"quantitative"},"y":{"field":"v","type":"quantitative","scale":{"domain":[0,50]},"axis":null}}}
]},
{"width":406,"height":283,"view":{"fill":"white","stroke":"#555555","strokeWidth":1.5},
"layer":[
{"data":{"name":"boxes"},"mark":{"type":"rule","color":"#555555","strokeWidth":1.3},
"encoding":{"x":{"field":"c","type":"quantitative","scale":{"domain":[0,5],"nice":false},"axis":{"values":[1,2,3,4],"labelExpr":"['','Group A','Group B','Group C','Group D',''][datum.value]","title":"X Data","labelPadding":9,"titlePadding":12,"tickSize":5,"domainColor":"#555555","domainWidth":1.5,"tickColor":"#555555","labelFontSize":10.5}},"y":{"field":"lo","type":"quantitative","scale":{"domain":[0,30]},"axis":{"values":[0,5,10,15,20,25,30],"title":"Y Data","titleX":-34,"titleY":142,"tickSize":4,"grid":true,"gridColor":"#dcdcdc","gridWidth":1.5,"domainColor":"#555555","domainWidth":1.5,"tickColor":"#555555","labelFontSize":11}},"y2":{"field":"hi"}}},
{"data":{"name":"boxes"},"mark":{"type":"rule","color":"#444444","strokeWidth":1.3},"encoding":{"x":{"field":"cl","type":"quantitative"},"x2":{"field":"cr"},"y":{"field":"lo","type":"quantitative"}}},
{"data":{"name":"boxes"},"mark":{"type":"rule","color":"#444444","strokeWidth":1.3},"encoding":{"x":{"field":"cl","type":"quantitative"},"x2":{"field":"cr"},"y":{"field":"hi","type":"quantitative"}}},
{"data":{"name":"boxes"},"mark":{"type":"rect","fill":"#bebebe","stroke":"#333333","strokeWidth":1.3},"encoding":{"x":{"field":"xl","type":"quantitative"},"x2":{"field":"xr"},"y":{"field":"q1","type":"quantitative"},"y2":{"field":"q3"}}},
{"data":{"name":"boxes"},"mark":{"type":"rule","color":"#efefef","strokeWidth":1.2},"encoding":{"x":{"field":"xl","type":"quantitative"},"x2":{"field":"xr"},"y":{"field":"mean","type":"quantitative"}}},
{"data":{"name":"boxes"},"mark":{"type":"rule","color":"#222222","strokeWidth":1.3},"encoding":{"x":{"field":"xl","type":"quantitative"},"x2":{"field":"xr"},"y":{"field":"med","type":"quantitative"}}},
{"data":{"values":[{"a":2.55,"b":3.83,"v":25.45,"w":22}]},"mark":{"type":"rect","fill":"#ffffe4","stroke":"#111111","strokeWidth":1},"encoding":{"x":{"field":"a","type":"quantitative"},"x2":{"field":"b"},"y":{"field":"v","type":"quantitative"},"y2":{"field":"w"}}},
{"data":{"values":[{"t":"X:","a":2.58,"v":24.53},{"t":"Y:","a":2.58,"v":23}]},"mark":{"type":"text","align":"left","fontSize":9.5,"color":"#333333"},"encoding":{"text":{"field":"t"},"x":{"field":"a","type":"quantitative"},"y":{"field":"v","type":"quantitative"}}},
{"data":{"values":[{"t":"1.541","a":3.67,"v":24.53},{"t":"27.6771","a":3.72,"v":23}]},"mark":{"type":"text","align":"right","fontSize":9.5,"color":"#333333"},"encoding":{"text":{"field":"t"},"x":{"field":"a","type":"quantitative"},"y":{"field":"v","type":"quantitative"}}},
{"data":{"values":[{"t":"例2","a":1.794,"v":38.9}]},"mark":{"type":"text","font":"Noto Sans CJK SC","fontSize":25,"color":"#e8141c"},"encoding":{"text":{"field":"t"},"x":{"field":"a","type":"quantitative"},"y":{"field":"v","type":"quantitative"}}},
{"data":{"values":[{"t":"Box Plots with Variable Widths","a":2.533,"v":34.14}]},"mark":{"type":"text","fontSize":16.2,"fontWeight":"bold","color":"#111111"},"encoding":{"text":{"field":"t"},"x":{"field":"a","type":"quantitative"},"y":{"field":"v","type":"quantitative"}}}
]}
]},
{"bounds":"flush","spacing":32,"hconcat":[
{"width":1,"height":1,"view":{"stroke":null},"data":{"values":[{"a":0}]},"mark":{"type":"point","opacity":0},"encoding":{}},
{"bounds":"flush","spacing":197,"hconcat":[
{"width":324,"height":324,"view":{"fill":"#00178a","stroke":null},
"layer":[
{"data":{"name":"contour"},"mark":{"type":"line","interpolate":"cardinal-closed","tension":0.2,"clip":true,"strokeWidth":0},
"encoding":{"order":{"value":null},"x":{"field":"x","type":"quantitative","scale":{"domain":[420,525],"nice":false},"axis":{"values":[420,440,460,480,500,520],"title":"Mean Precipitation (in)","titlePadding":13,"tickSize":5,"labelFontSize":9,"titleFontSize":12.5,"titleColor":"#111111","domain":false,"tickColor":"#333333"}},"y":{"field":"y","type":"quantitative","scale":{"domain":[350,480],"nice":false},"axis":{"values":[360,380,400,420,440,460,480],"title":"Mean Temperature ( ?C)","titleX":-30,"titleY":161,"tickSize":5,"labelFontSize":9,"titleFontSize":13,"titleColor":"#111111","domain":false,"tickColor":"#333333"}},
"fill":{"field":"p","type":"nominal","legend":null,"scale":{"domain":[1,2,3,4,5,6,7,8,9,10,11,12,13,14,15,16,17,18,19,20,21,22,23,24,25,26,27,28,29,30,31,32,33,34,35,36,37,38,39,40],"range":["#0033a0","#0050b4","#0068c4","#0082d4","#009ae4","#00b4f0","#00c8fa","#00bcd8","#00b0b8","#00ac9c","#00a488","#009a58","#008c1c","#009a50","#00a070","#2a8200","#2a8200","#4c7c00","#4c7c00","#6e7a00","#6e7a00","#6e7a00","#908800","#908800","#807c00","#b0a000","#b0a000","#cdc000","#cdc000","#cdc000","#e0d800","#f0e800","#dcd400","#e8e000","#ffff00","#e8d800","#c8a800","#a07c00","#7c5200","#5a2a10"]}}}},
{"data":{"values":[{"t":"5.0e+4","a":528.8,"b":535.3,"v":482.4,"w":478.4,"k":"a"},{"t":"1.0e+5","a":528.8,"b":535.3,"v":478.1,"w":474.1,"k":"b"},{"t":"1.5e+5","a":528.8,"b":535.3,"v":473.8,"w":469.8,"k":"c"},{"t":"2.0e+5","a":528.8,"b":535.3,"v":469.5,"w":465.5,"k":"d"},{"t":"2.5e+5","a":528.8,"b":535.3,"v":465.2,"w":461.2,"k":"e"},{"t":"3.0e+5","a":528.8,"b":535.3,"v":460.9,"w":456.9,"k":"f"},{"t":"3.5e+5","a":528.8,"b":535.3,"v":456.6,"w":452.6,"k":"g"}]},
"mark":{"type":"rect"},"encoding":{"x":{"field":"a","type":"quantitative"},"x2":{"field":"b"},"y":{"field":"v","type":"quantitative"},"y2":{"field":"w"},"color":{"field":"k","type":"nominal","legend":null,"scale":{"domain":["a","b","c","d","e","f","g"],"range":["#0058b8","#00b4d8","#008c1c","#4c7c00","#b4ac00","#f0e800","#7c5200"]}}}},
{"data":{"values":[{"t":"5.0e+4","a":536.9,"m":480.4},{"t":"1.0e+5","a":536.9,"m":476.1},{"t":"1.5e+5","a":536.9,"m":471.8},{"t":"2.0e+5","a":536.9,"m":467.5},{"t":"2.5e+5","a":536.9,"m":463.2},{"t":"3.0e+5","a":536.9,"m":458.9},{"t":"3.5e+5","a":536.9,"m":454.6}]},"mark":{"type":"text","align":"left","fontSize":8.5,"color":"#222222"},"encoding":{"text":{"field":"t"},"x":{"field":"a","type":"quantitative"},"y":{"field":"m","type":"quantitative"}}},
{"data":{"values":[{"t":"例3","a":474.4,"v":512}]},"mark":{"type":"text","font":"Noto Sans CJK SC","fontSize":25,"color":"#e8141c"},"encoding":{"text":{"field":"t"},"x":{"field":"a","type":"quantitative"},"y":{"field":"v","type":"quantitative"}}},
{"data":{"values":[{"t":"Contour Graph","a":473.5,"v":490.3}]},"mark":{"type":"text","fontSize":13,"fontWeight":"bold","color":"#111111"},"encoding":{"text":{"field":"t"},"x":{"field":"a","type":"quantitative"},"y":{"field":"v","type":"quantitative"}}}
],"resolve":{"scale":{"color":"independent"}}},
{"width":340,"height":344.6,"view":{"stroke":null},
"layer":[
{"data":{"values":[{"r":41}]},"mark":{"type":"arc","fill":"#fdfde8"},"encoding":{"theta":{"value":0},"theta2":{"value":6.2832},"radius":{"field":"r","type":"quantitative","scale":{"type":"log","domain":[0.00178,110],"range":[0,143.3]}}}},
{"data":{"values":[{"r":0.02},{"r":0.03},{"r":0.04},{"r":0.05},{"r":0.06},{"r":0.07},{"r":0.08},{"r":0.09},{"r":0.2},{"r":0.3},{"r":0.4},{"r":0.5},{"r":0.6},{"r":0.7},{"r":0.8},{"r":0.9},{"r":2},{"r":3},{"r":4},{"r":5},{"r":6},{"r":7},{"r":8},{"r":9},{"r":20},{"r":30},{"r":40}]},"mark":{"type":"arc","filled":false,"stroke":"#ecece0","strokeWidth":0.8},"encoding":{"theta":{"value":0},"theta2":{"value":6.2832},"radius":{"field":"r","type":"quantitative"}}},
{"data":{"values":[{"r":0.01},{"r":0.1},{"r":1},{"r":10}]},"mark":{"type":"arc","filled":false,"stroke":"#d4d4ca","strokeWidth":1},"encoding":{"theta":{"value":0},"theta2":{"value":6.2832},"radius":{"field":"r","type":"quantitative"}}},
{"data":{"values":[{"a":19,"b":11,"c":112.6,"d":65},{"a":11,"b":19,"c":65,"d":112.6},{"a":-11,"b":19,"c":-65,"d":112.6},{"a":-19,"b":11,"c":-112.6,"d":65},{"a":-19,"b":-11,"c":-112.6,"d":-65},{"a":-11,"b":-19,"c":-65,"d":-112.6},{"a":11,"b":-19,"c":65,"d":-112.6},{"a":19,"b":-11,"c":112.6,"d":-65}]},"mark":{"type":"rule","color":"#d6d6ca","strokeWidth":1},"encoding":{"x":{"field":"a","type":"quantitative","scale":{"domain":[-170,170],"nice":false},"axis":null},"y":{"field":"b","type":"quantitative","scale":{"domain":[-172.3,172.3],"nice":false},"axis":null},"x2":{"field":"c"},"y2":{"field":"d"}}},
{"data":{"values":[{"a":0,"b":130.3,"c":0,"d":-130.3}]},"mark":{"type":"rule","color":"#d0d0d0","strokeWidth":1.6},"encoding":{"x":{"field":"a","type":"quantitative","axis":null},"y":{"field":"b","type":"quantitative","axis":null},"x2":{"field":"c"},"y2":{"field":"d"}}},
{"data":{"name":"petals"},"mark":{"type":"line","interpolate":"catmull-rom","strokeWidth":1.3},"encoding":{"order":{"value":null},"x":{"field":"x","type":"quantitative","axis":null},"y":{"field":"y","type":"quantitative","axis":null},"detail":{"field":"c"},"stroke":{"field":"s","type":"ordinal","legend":null,"scale":{"domain":[1,2,3,4,5],"range":["#a4a4a4","#7c7c7c","#555555","#303030","#111111"]}}}},
{"data":{"values":[{"x":-4,"y":15.7},{"x":4,"y":15.7},{"x":0,"y":2.3}]},"mark":{"type":"line","fill":"#2a2a2a","stroke":"#2a2a2a","strokeWidth":0.5,"interpolate":"linear-closed"},"encoding":{"order":{"value":null},"x":{"field":"x","type":"quantitative","axis":null},"y":{"field":"y","type":"quantitative","axis":null}}},
{"data":{"values":[{"a":-130.3,"b":0,"c":130.3,"d":0},{"a":22.3,"b":0,"c":22.3,"d":4},{"a":52,"b":0,"c":52,"d":4},{"a":82,"b":0,"c":82,"d":4},{"a":112,"b":0,"c":112,"d":4},{"a":-22.3,"b":0,"c":-22.3,"d":4},{"a":-52,"b":0,"c":-52,"d":4},{"a":-82,"b":0,"c":-82,"d":4},{"a":-112,"b":0,"c":-112,"d":4}]},"mark":{"type":"rule","color":"#333333","strokeWidth":1},"encoding":{"x":{"field":"a","type":"quantitative","axis":null},"y":{"field":"b","type":"quantitative","axis":null},"x2":{"field":"c"},"y2":{"field":"d"}}},
{"data":{"values":[{"r":41}]},"mark":{"type":"arc","filled":false,"stroke":"#555555","strokeWidth":1},"encoding":{"theta":{"value":0},"theta2":{"value":6.2832},"radius":{"field":"r","type":"quantitative"}}},
{"data":{"values":[{"r":110}]},"mark":{"type":"arc","filled":false,"stroke":"#555555","strokeWidth":1},"encoding":{"theta":{"value":0},"theta2":{"value":6.2832},"radius":{"field":"r","type":"quantitative"}}},
{"data":{"values":[{"a":143.3,"b":0,"c":147.5,"d":0},{"a":124.1,"b":71.65,"c":127.7,"d":73.75},{"a":71.65,"b":124.1,"c":73.75,"d":127.7},{"a":0,"b":143.3,"c":0,"d":147.5},{"a":-71.65,"b":124.1,"c":-73.75,"d":127.7},{"a":-124.1,"b":71.65,"c":-127.7,"d":73.75},{"a":-143.3,"b":0,"c":-147.5,"d":0},{"a":-124.1,"b":-71.65,"c":-127.7,"d":-73.75},{"a":-71.65,"b":-124.1,"c":-73.75,"d":-127.7},{"a":0,"b":-143.3,"c":0,"d":-147.5},{"a":71.65,"b":-124.1,"c":73.75,"d":-127.7},{"a":124.1,"b":-71.65,"c":127.7,"d":-73.75}]},"mark":{"type":"rule","color":"#555555","strokeWidth":1},"encoding":{"x":{"field":"a","type":"quantitative","axis":null},"y":{"field":"b","type":"quantitative","axis":null},"x2":{"field":"c"},"y2":{"field":"d"}}},
{"data":{"values":[{"t":"0","a":151.3,"b":0},{"t":"30","a":134,"b":75},{"t":"60","a":74.7,"b":133},{"t":"90","a":0,"b":153},{"t":"120","a":-74.7,"b":133},{"t":"150","a":-135.7,"b":75},{"t":"180","a":-154.7,"b":0},{"t":"210","a":-135.7,"b":-75},{"t":"240","a":-74.7,"b":-135},{"t":"270","a":0,"b":-155},{"t":"300","a":75,"b":-135},{"t":"330","a":135.7,"b":-75},{"t":"0.01","a":22.3,"b":-12},{"t":"0.1","a":53,"b":-12},{"t":"1","a":82,"b":-12},{"t":"10","a":112,"b":-12},{"t":"10","a":-111.3,"b":-4},{"t":"1","a":-81.3,"b":-4},{"t":"0.1","a":-52,"b":-4},{"t":"0.01","a":-23,"b":-4}]},"mark":{"type":"text","fontSize":9,"color":"#333333"},"encoding":{"text":{"field":"t"},"x":{"field":"a","type":"quantitative","axis":null},"y":{"field":"b","type":"quantitative","axis":null}}},
{"data":{"values":[{"t":"例4","a":-45,"b":251}]},"mark":{"type":"text","font":"Noto Sans CJK SC","fontSize":25,"color":"#e8141c"},"encoding":{"text":{"field":"t"},"x":{"field":"a","type":"quantitative","axis":null},"y":{"field":"b","type":"quantitative","axis":null}}},
{"data":{"values":[{"t":"Polar Plot","a":0,"b":179}]},"mark":{"type":"text","fontSize":11,"color":"#222222"},"encoding":{"text":{"field":"t"},"x":{"field":"a","type":"quantitative","axis":null},"y":{"field":"b","type":"quantitative","axis":null}}},
{"data":{"values":[{"a":74,"b":-171}]},"mark":{"type":"point","shape":"circle","size":707,"filled":true,"fill":"white","stroke":"#bdbdbd","strokeWidth":1.2,"opacity":1},"encoding":{"x":{"field":"a","type":"quantitative","axis":null},"y":{"field":"b","type":"quantitative","axis":null}}},
{"data":{"values":[{"a":88,"b":-181}]},"mark":{"type":"point","shape":"circle","size":452,"filled":true,"fill":"white","stroke":"#bdbdbd","strokeWidth":1.2,"opacity":1},"encoding":{"x":{"field":"a","type":"quantitative","axis":null},"y":{"field":"b","type":"quantitative","axis":null}}},
{"data":{"values":[{"a":68.7,"b":-163},{"a":79.3,"b":-163},{"a":82.7,"b":-174.3},{"a":92,"b":-174.3}]},"mark":{"type":"point","shape":"circle","size":8,"filled":true,"fill":"#aaaaaa","opacity":1},"encoding":{"x":{"field":"a","type":"quantitative","axis":null},"y":{"field":"b","type":"quantitative","axis":null}}},
{"data":{"values":[{"t":"科研根号三","a":172,"b":-176}]},"mark":{"type":"text","font":"Noto Sans CJK SC","fontSize":25,"color":"#888888"},"encoding":{"text":{"field":"t"},"x":{"field":"a","type":"quantitative","axis":null},"y":{"field":"b","type":"quantitative","axis":null}}}
]}
]}
]}
]}
